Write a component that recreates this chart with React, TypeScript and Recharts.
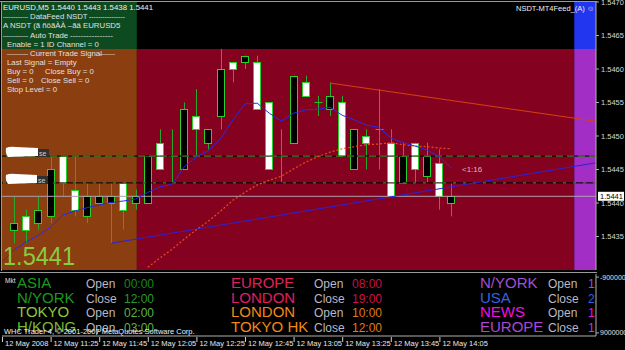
import React from "react";
import { ComposedChart, Bar, Line, XAxis, YAxis, ReferenceArea, ReferenceLine } from "recharts";

// ---------- data ----------
const barIdx = [-1, 0, 1, 2, 3, 4, 5, 6, 7, 8, 9, 10, 11, 12, 13, 14, 15, 16, 17, 18, 19, 20, 21, 22, 23, 24, 25, 26, 27, 28, 29, 30, 31, 32, 33, 34, 35, 36];

const opens = [1.5436, 1.5438, 1.5437, 1.5438, 1.5447, 1.5442, 1.5438, 1.544, 1.544, 1.5443, 1.544, 1.544, 1.5449, 1.5447, 1.5445, 1.5453, 1.5449, 1.5453, 1.5461, 1.5461, 1.5461, 1.5455, 1.5447, 1.5449, 1.5458, 1.5455, 1.5454, 1.5455, 1.5445, 1.545, 1.5451, 1.5449, 1.5443, 1.5449, 1.5444, 1.5446, 1.544];
const highs = [1.5441, 1.5439, 1.5441, 1.5447, 1.5447, 1.5447, 1.5443, 1.5443, 1.5443, 1.5443, 1.5442, 1.5447, 1.5451, 1.5451, 1.5455, 1.5457, 1.5451, 1.5463, 1.5461, 1.5462, 1.5462, 1.5455, 1.5451, 1.5459, 1.5459, 1.5456, 1.5458, 1.5456, 1.5451, 1.5451, 1.5457, 1.5451, 1.5449, 1.5449, 1.5449, 1.5448, 1.5443];
const lows = [1.5434, 1.5434, 1.5436, 1.5437, 1.5441, 1.5438, 1.5437, 1.544, 1.5434, 1.5436, 1.5439, 1.544, 1.5445, 1.5443, 1.5445, 1.5447, 1.5448, 1.5451, 1.5458, 1.546, 1.5454, 1.5445, 1.5443, 1.5449, 1.5456, 1.5453, 1.5453, 1.5447, 1.5445, 1.5445, 1.5445, 1.5441, 1.5443, 1.5443, 1.5443, 1.5439, 1.5438];
const closes = [1.5437, 1.5436, 1.5439, 1.5445, 1.5443, 1.5439, 1.5441, 1.5441, 1.5441, 1.5439, 1.5441, 1.5447, 1.5445, 1.5447, 1.5454, 1.5451, 1.5451, 1.546, 1.546, 1.5462, 1.5454, 1.5445, 1.5447, 1.5459, 1.5456, 1.5455, 1.5456, 1.5447, 1.5451, 1.5449, 1.5451, 1.5441, 1.5447, 1.5445, 1.5447, 1.5441, 1.5441];

const maFast = [1.54312, 1.5433, 1.54342, 1.54352, 1.54364, 1.54382, 1.54388, 1.54393, 1.54397, 1.54401, 1.54403, 1.54406, 1.54416, 1.54424, 1.54428, 1.54454, 1.54469, 1.54478, 1.54496, 1.54524, 1.54548, 1.54549, 1.54534, 1.54522, 1.54534, 1.54539, 1.5454, 1.54543, 1.54531, 1.54524, 1.54516, 1.54513, 1.54497, 1.5449, 1.54485, 1.54479, 1.54469, 1.54452];
const maSlow = [null, null, null, null, null, null, null, null, null, null, null, null, 1.54304, 1.54318, 1.54331, 1.54346, 1.5436, 1.54373, 1.54388, 1.54404, 1.54416, 1.54427, 1.54434, 1.5444, 1.54451, 1.54461, 1.54469, 1.54476, 1.54481, 1.54484, 1.54487, 1.54488, 1.5449, 1.54487, 1.54485, 1.54484, 1.54482, 1.54481];

const timeTickIdx = [-1, 3, 7, 11, 15, 19, 23, 27, 31, 35];
const timeTickLabels = ["12 May 2008", "12 May 11:25", "12 May 11:45", "12 May 12:05", "12 May 12:25", "12 May 12:45", "12 May 13:05", "12 May 13:25", "12 May 13:45", "12 May 14:05"];
const priceTicks = [1.5435, 1.544, 1.5445, 1.545, 1.5455, 1.546, 1.5465, 1.547];
const subTicks = [-9000000, 9000000];

// session zones (bar-index boundaries and price band)
const zoneStarts = [-1, 10.1, 46.1];
const zoneEnds = [10.1, 46.1, 47.89];
const zoneTop = 1.5463;
const levelLines = [1.5447, 1.5443];
const bidPrice = 1.5441;
const trendBlue = [{ x: 8, y: 1.5434 }, { x: 47.89, y: 1.5446 }];
const trendRed = [{ x: 26, y: 1.54579 }, { x: 47.89, y: 1.54522 }];

const infoTitle = "EURUSD,M5  1.5440 1.5443 1.5438 1.5441";

const sessionNames = [["ASIA", "N/YORK", "TOKYO", "H/KONG"], ["EUROPE", "LONDON", "LONDON", "TOKYO HK"], ["N/YORK", "USA", "NEWS", "EUROPE"]];
const sessionActions = [["Open", "Close", "Open", "Open"], ["Open", "Close", "Open", "Close"], ["Open", "Close", "Open", "Close"]];
const sessionTimes = [["00:00", "12:00", "02:00", "03:00"], ["08:00", "19:00", "10:00", "12:00"], ["15:00", "23:00", "16:00", "17:00"]];

// ---------- styles ----------
const FONT = '"Liberation Sans", Arial, sans-serif';
const SMALL = 7.8;
const nameColors = [["#1c9a1c", "#1c9a1c", "#8cc83c", "#78b838"], ["#e0205c", "#e01e64", "#f08818", "#f08818"], ["#a050d0", "#3462e0", "#f010e0", "#a848d8"]];
const timeColors = [["#1a861a", "#2a9a2a", "#5cb040", "#5cb040"], ["#c8104a", "#d0104a", "#e07818", "#e07818"], ["#a050d0", "#3462e0", "#f010e0", "#a848d8"]];
const colX = [[17, 86, 124], [231, 314, 352], [480, 548, 588]];
const rowY = [288, 302.5, 317, 331.5];

const rows = barIdx.map((idx, i) => {
  const k = i - 1;
  const has = k >= 0;
  return {
    idx,
    open: has ? opens[k] : null,
    high: has ? highs[k] : null,
    low: has ? lows[k] : null,
    close: has ? closes[k] : null,
    maFast: maFast[i],
    maSlow: maSlow[i],
  };
});

function Candle(props: any) {
  const { x, y, width, height, payload } = props;
  if (!payload || payload.high == null || x == null || y == null) return null;
  const { open, high, low, close } = payload;
  const top = Math.min(y, y + height);
  const h = Math.abs(height);
  const k = h / (high - low);
  const py = (v: number) => top + (high - v) * k;
  const cx = Math.round(x + width / 2) + 0.5;
  const bTop = Math.round(py(Math.max(open, close))) + 0.5;
  const bBot = Math.round(py(Math.min(open, close))) + 0.5;
  const up = close > open;
  return (
    <g>
      <line x1={cx} x2={cx} y1={top} y2={top + h} stroke="#2aa82a" strokeWidth={1} />
      {open === close ? (
        <line x1={cx - 4} x2={cx + 4} y1={bTop} y2={bTop} stroke="#2ac02a" strokeWidth={1} />
      ) : (
        <rect x={cx - 4} y={bTop} width={7} height={Math.max(1, bBot - bTop)} fill={up ? "#000000" : "#ffffff"} stroke="#28d028" strokeWidth={1} />
      )}
    </g>
  );
}

function PriceTag(props: any) {
  const vb = props.viewBox || {};
  const x = (vb.x || 0) + (vb.width || 0) + 2;
  const y = vb.y || 0;
  return (
    <g>
      <rect x={x} y={y - 4.5} width={26} height={9} fill="#ffffff" />
      <text x={x + 2} y={y + 3} fontSize={7.5} fontFamily={FONT} fill="#000000">{closes[closes.length - 1].toFixed(4)}</text>
    </g>
  );
}

function TimeTick(props: any) {
  const { x, y, payload } = props;
  const i = timeTickIdx.indexOf(payload.value);
  return (
    <g>
      <line x1={x + 0.5} x2={x + 0.5} y1={y + 1} y2={y + 6} stroke="#d0d0d0" />
      <text x={x + 3} y={y + 10} fontSize={7.5} fontFamily={FONT} fill="#e8e8e8" textAnchor="start">{i >= 0 ? timeTickLabels[i] : ""}</text>
    </g>
  );
}

function Dashed({ x1, x2, title, tx, tw, y }: any) {
  return (
    <g>
      <text x={x1} y={y} fontSize={SMALL} fill="#e0e0e0" textLength={tx - x1 - 2} lengthAdjust="spacingAndGlyphs">{"-".repeat(14)}</text>
      <text x={tx} y={y} fontSize={SMALL} fill="#e0e0e0">{title}</text>
      <text x={tx + tw + 2} y={y} fontSize={SMALL} fill="#e0e0e0" textLength={x2 - tx - tw - 2} lengthAdjust="spacingAndGlyphs">{"-".repeat(16)}</text>
    </g>
  );
}

export default function App() {
  return (
    <div style={{ position: "absolute", left: 0, top: 0, width: 625, height: 350, background: "#000", overflow: "hidden", fontFamily: FONT }}>
      <div style={{ position: "absolute", left: 0, top: 0 }}>
        <ComposedChart width={625} height={272} data={rows} margin={{ top: 2, right: 0, bottom: 2, left: 2 }}>
          <XAxis type="number" dataKey="idx" domain={[-1, 47.89]} hide allowDataOverflow />
          <YAxis orientation="right" width={29} domain={[1.543, 1.547]} ticks={priceTicks} allowDataOverflow interval={0}
            tickFormatter={(v: number) => v.toFixed(4)} tick={{ fill: "#d8d8d8", fontSize: 7.5, fontFamily: FONT }}
            tickSize={3} tickMargin={2} axisLine={{ stroke: "#b0b0b0" }} tickLine={{ stroke: "#b0b0b0" }} />
          <ReferenceArea x1={zoneStarts[0]} x2={zoneEnds[0]} y1={zoneTop} y2={1.547} fill="#0d4a20" fillOpacity={1} stroke="none" />
          <ReferenceArea x1={zoneStarts[0]} x2={zoneEnds[0]} y1={1.543} y2={zoneTop} fill="#8b3e0f" fillOpacity={1} stroke="none" />
          <ReferenceArea x1={zoneStarts[1]} x2={zoneEnds[1]} y1={1.543} y2={zoneTop} fill="#84021f" fillOpacity={1} stroke="none" />
          <ReferenceArea x1={zoneStarts[2]} x2={zoneEnds[2]} y1={1.543} y2={zoneTop} fill="#a22ec6" fillOpacity={1} stroke="none" />
          <ReferenceArea x1={zoneStarts[2]} x2={zoneEnds[2]} y1={zoneTop} y2={1.547} fill="#2236f0" fillOpacity={1} stroke="none" />
          <ReferenceLine y={levelLines[0]} stroke="#000000" strokeWidth={1} />
          <ReferenceLine y={levelLines[0]} stroke="#4a9a30" strokeDasharray="7 4" strokeWidth={1} />
          <ReferenceLine y={levelLines[1]} stroke="#000000" strokeWidth={1} />
          <ReferenceLine y={levelLines[1]} stroke="#4a9a30" strokeDasharray="3 7" strokeWidth={1} />
          <ReferenceLine y={bidPrice} stroke="#b0a0aa" strokeWidth={1} label={<PriceTag />} />
          <ReferenceLine segment={trendBlue} stroke="#2a22e0" strokeWidth={1} ifOverflow="visible" />
          <ReferenceLine segment={trendRed} stroke="#d8400e" strokeWidth={1} ifOverflow="visible" />
          <Bar dataKey={(d: any) => (d.high != null ? [d.low, d.high] : undefined)} barSize={8} isAnimationActive={false} shape={(p: any) => <Candle {...p} />} />
          <Line type="linear" dataKey="maSlow" stroke="#f04a14" strokeWidth={1.2} strokeDasharray="2 2" dot={false} isAnimationActive={false} />
          <Line type="linear" dataKey="maFast" stroke="#2a2ae8" strokeWidth={1} dot={false} isAnimationActive={false} />
        </ComposedChart>
      </div>
      <div style={{ position: "absolute", left: 0, top: 272 }}>
        <ComposedChart width={625} height={78} data={rows} margin={{ top: 2, right: 0, bottom: 0, left: 2 }}>
          <XAxis type="number" dataKey="idx" domain={[-1, 47.89]} ticks={timeTickIdx} interval={0} allowDataOverflow
            height={14} tickSize={0} tickMargin={0} tickLine={false} axisLine={{ stroke: "#b0b0b0" }} tick={<TimeTick />} />
          <YAxis orientation="right" width={29} domain={[-10000000, 10000000]} reversed ticks={subTicks} interval={0} allowDataOverflow
            tick={{ fill: "#e0e0e0", fontSize: 7, fontFamily: FONT }} tickSize={3} tickMargin={1}
            axisLine={{ stroke: "#b0b0b0" }} tickLine={{ stroke: "#b0b0b0" }} />
          <Line type="linear" dataKey="none" stroke="none" dot={false} isAnimationActive={false} />
        </ComposedChart>
      </div>
      <svg width={625} height={350} style={{ position: "absolute", left: 0, top: 0, pointerEvents: "none" }} fontFamily={FONT}>
        <defs>
          <clipPath id="subclip"><rect x={0} y={273} width={596} height={63} /></clipPath>
        </defs>
        {/* frame */}
        <line x1={0} x2={597} y1={1.5} y2={1.5} stroke="#9a9a9a" />
        <line x1={1.5} x2={1.5} y1={1} y2={271} stroke="#9a9a9a" />
        <line x1={0} x2={597} y1={272.5} y2={272.5} stroke="#9a9a9a" />
        {/* info block */}
        <text x={3} y={10} fontSize={SMALL} fill="#f0f0f0">{infoTitle}</text>
        <Dashed x1={3} x2={125} tx={30} tw={57} title="DataFeed NSDT" y={19} />
        <text x={3} y={28} fontSize={SMALL} fill="#e0e0e0">A NSDT (ã ñöãÀÀ –ãä  EURUSD5</text>
        <Dashed x1={3} x2={113} tx={30} tw={38} title="Auto Trade" y={37.5} />
        <text x={7} y={46.5} fontSize={SMALL} fill="#e0e0e0">Enable = 1  ID Channel = 0</text>
        <Dashed x1={7} x2={115} tx={30} tw={67} title="Current Trade Signal" y={55.5} />
        <text x={7} y={65} fontSize={SMALL} fill="#e0e0e0">Last Signal = Empty</text>
        <text x={7} y={74} fontSize={SMALL} fill="#e0e0e0">Buy = 0</text>
        <text x={45} y={74} fontSize={SMALL} fill="#e0e0e0">Close Buy = 0</text>
        <text x={7} y={83} fontSize={SMALL} fill="#e0e0e0">Sell = 0</text>
        <text x={41} y={83} fontSize={SMALL} fill="#e0e0e0">Close Sell = 0</text>
        <text x={7} y={92} fontSize={SMALL} fill="#e0e0e0">Stop Level = 0</text>
        <text x={516} y={11} fontSize={7.5} fill="#f0f0f0">NSDT-MT4Feed_(A) ☺</text>
        {/* object labels on the left */}
        <path d="M6,148 Q10,146 16,147 L38,148 L38,156 L8,157 Q5,153 6,148 Z" fill="#ffffff" />
        <rect x={38} y={149} width={11} height={8} fill="#303030" />
        <text x={39} y={156} fontSize={7} fill="#d0d0d0">se</text>
        <path d="M6,175 Q10,173 16,174 L37,175 L37,183 L8,184 Q5,180 6,175 Z" fill="#ffffff" />
        <rect x={37} y={176} width={11} height={8} fill="#303030" />
        <text x={38} y={183} fontSize={7} fill="#d0d0d0">se</text>
        <text x={462} y={172} fontSize={8} fill="#d8b4c4">{"<1:16"}</text>
        <text x={3} y={265} fontSize={26} fill="#88cc44" textLength={72} lengthAdjust="spacingAndGlyphs">{closes[closes.length - 1].toFixed(4)}</text>
        {/* indicator sub-window */}
        <text x={5} y={283} fontSize={6.5} fill="#e0e0e0">Mkt</text>
        <g clipPath="url(#subclip)">
          {sessionNames.map((col, c) =>
            col.map((name, r) => (
              <g key={`${c}-${r}`}>
                <text x={colX[c][0]} y={rowY[r]} fontSize={15} fill={nameColors[c][r]}>{name}</text>
                <text x={colX[c][1]} y={rowY[r]} fontSize={12} fill="#b8b8c8">{sessionActions[c][r]}</text>
                <text x={colX[c][2]} y={rowY[r]} fontSize={12} fill={timeColors[c][r]}>{sessionTimes[c][r]}</text>
              </g>
            ))
          )}
        </g>
        <text x={4} y={334} fontSize={7.5} fill="#f0f0f0">WHC Trader 4, © 2001-2007 MetaQuotes Software Corp.</text>
      </svg>
    </div>
  );
}
